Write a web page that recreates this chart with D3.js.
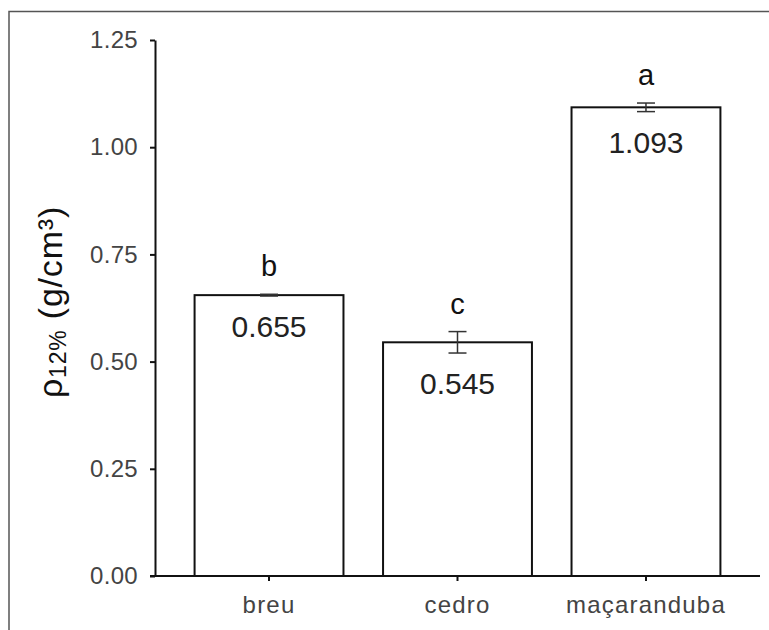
<!DOCTYPE html>
<html>
<head>
<meta charset="utf-8">
<script src="https://cdn.jsdelivr.net/npm/d3@7"></script>
<style>
  body { margin: 0; background: #fff; }
  svg { display: block; font-family: 'Liberation Sans', Arial, sans-serif; }
</style>
</head>
<body>
<svg id="chart"></svg>
<script>
const categories = ['breu', 'cedro', 'maçaranduba']
const means = [0.655, 0.545, 1.093]
const errors = [0.002, 0.025, 0.010]
const letters = ['b', 'c', 'a']
const yTicks = [0, 0.25, 0.5, 0.75, 1.0, 1.25]

const fullWidth = 769
const fullHeight = 630
const margin = { top: 40, right: 9, bottom: 54, left: 155 }

const data = categories.map((name, i) => ({ name, mean: means[i], err: errors[i], letter: letters[i] }))

const svg = d3.select('#chart')
    .attr('width', fullWidth)
    .attr('height', fullHeight)

// outer frame, runs off the right and bottom edges
svg.append('rect')
    .attr('x', 9).attr('y', 11.5)
    .attr('width', 900).attr('height', 900)
    .attr('fill', 'none')
    .attr('stroke', '#555')
    .attr('stroke-width', 1.5)

const xScale = d3.scaleBand()
    .domain(categories)
    .range([margin.left, fullWidth - margin.right])
    .padding(0.21)

const yScale = d3.scaleLinear()
    .domain([0, 1.25])
    .range([fullHeight - margin.bottom, margin.top])

// bars
svg.append('g')
    .selectAll('rect')
    .data(data)
    .enter().append('rect')
        .attr('x', d => xScale(d.name))
        .attr('y', d => yScale(d.mean))
        .attr('width', xScale.bandwidth())
        .attr('height', d => yScale(0) - yScale(d.mean))
        .attr('fill', '#fff')
        .attr('stroke', '#111')
        .attr('stroke-width', 2)

// error bars
const errG = svg.append('g')
    .attr('stroke', '#333')
    .attr('stroke-width', 1.5)
const cap = 9
data.forEach(d => {
    const cx = xScale(d.name) + xScale.bandwidth() / 2
    errG.append('line')
        .attr('x1', cx).attr('x2', cx)
        .attr('y1', yScale(d.mean + d.err)).attr('y2', yScale(d.mean - d.err))
    ;[d.mean + d.err, d.mean - d.err].forEach(v => {
        errG.append('line')
            .attr('x1', cx - cap).attr('x2', cx + cap)
            .attr('y1', yScale(v)).attr('y2', yScale(v))
    })
})

// significance letters
svg.append('g')
    .selectAll('text')
    .data(data)
    .enter().append('text')
        .attr('x', d => xScale(d.name) + xScale.bandwidth() / 2)
        .attr('y', d => yScale(d.mean + d.err) - 18)
        .attr('text-anchor', 'middle')
        .attr('font-size', '29px')
        .attr('fill', '#111')
        .text(d => d.letter)

// mean values inside bars
svg.append('g')
    .selectAll('text')
    .data(data)
    .enter().append('text')
        .attr('x', d => xScale(d.name) + xScale.bandwidth() / 2)
        .attr('y', d => yScale(d.mean - d.err) + 41)
        .attr('text-anchor', 'middle')
        .attr('font-size', '30px')
        .attr('fill', '#222')
        .text(d => d3.format('.3f')(d.mean))

// y axis
const yAxisG = svg.append('g')
    .attr('transform', `translate(${margin.left}, 0)`)
    .call(d3.axisLeft(yScale)
        .tickValues(yTicks)
        .tickSize(5)
        .tickSizeOuter(0)
        .tickPadding(12)
        .tickFormat(d3.format('.2f')))

// x axis
const xAxisG = svg.append('g')
    .attr('transform', `translate(0, ${yScale(0)})`)
    .call(d3.axisBottom(xScale)
        .tickSize(5)
        .tickSizeOuter(0)
        .tickPadding(15))

xAxisG.select('.domain')
    .attr('d', `M${xScale.range()[0] - 5},0H${xScale.range()[1]}`)

;[yAxisG, xAxisG].forEach(g => {
    g.selectAll('.domain, .tick line')
        .attr('stroke', '#111')
        .attr('stroke-width', 2)
    g.selectAll('text')
        .attr('font-family', "'Liberation Sans', Arial, sans-serif")
        .attr('font-size', '24px')
        .attr('fill', '#444')
})
yAxisG.selectAll('text').attr('letter-spacing', '0.3px')
xAxisG.selectAll('text').attr('letter-spacing', '1.2px')

// y axis title
const title = svg.append('text')
    .attr('transform', `translate(62, 302) rotate(-90)`)
    .attr('text-anchor', 'middle')
    .attr('font-size', '34px')
    .attr('letter-spacing', '0.8px')
    .attr('fill', '#111')
title.append('tspan').text('ρ')
title.append('tspan').attr('font-size', '23px').attr('dy', 4).text('12%')
title.append('tspan').attr('dy', -4).text(' (g/cm³)')
</script>
</body>
</html>
